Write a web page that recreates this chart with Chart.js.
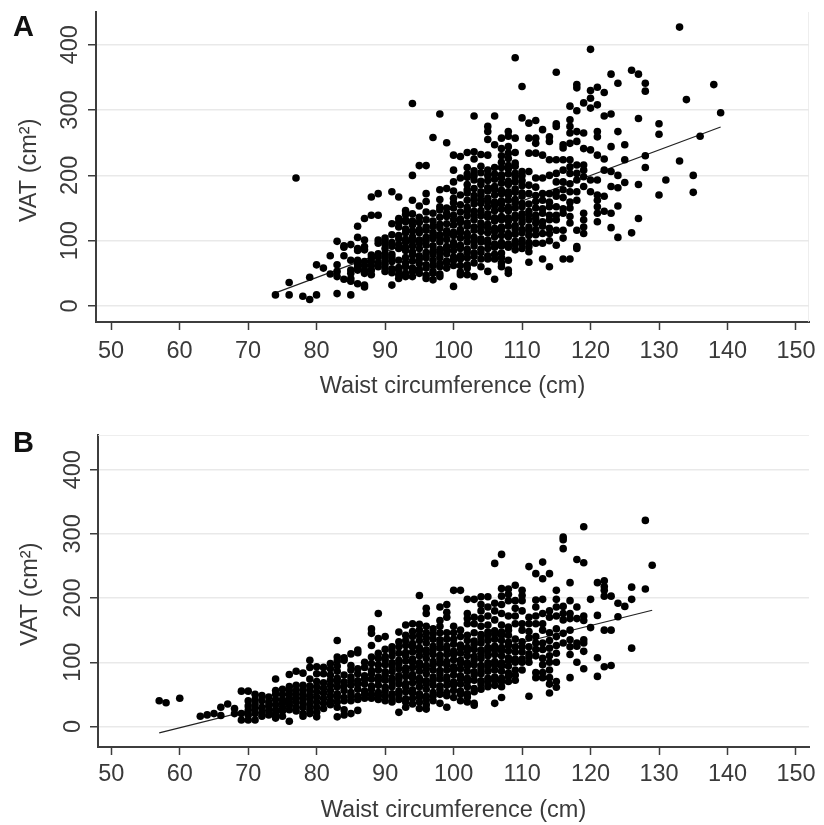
<!DOCTYPE html>
<html>
<head>
<meta charset="utf-8">
<script src="https://cdn.jsdelivr.net/npm/chart.js@4"></script>
<style>
    html, body { margin: 0; padding: 0; background: #fff; }
    #page { position: relative; width: 824px; height: 825px; overflow: hidden; }
    canvas { position: absolute; left: 0; }
    .panel { position: absolute; left: 13px; font: bold 29px "Liberation Sans", sans-serif; color: #111; line-height: 1; }
</style>
</head>
<body>
<div id="page">
    <canvas id="chartA" width="824" height="410" style="top:0"></canvas>
    <canvas id="chartB" width="824" height="415" style="top:410px"></canvas>
    <div class="panel" style="top:12px">A</div>
    <div class="panel" style="top:428px">B</div>
</div>
<script>
const xTicks = [50, 60, 70, 80, 90, 100, 110, 120, 130, 140, 150];
const yTicks = [0, 100, 200, 300, 400];

// Panel A: vong eo theo cot, moi cot la cac gia tri VAT doc tu hinh
const waistA = [74, 76, 77, 78, 79, 80, 81, 82, 83, 84, 85, 86, 87, 88, 89, 90, 91, 92, 93, 94, 95, 96, 97, 98, 99, 100,
    101, 102, 103, 104, 105, 106, 107, 108, 109, 110, 111, 112, 113, 114, 115, 116, 117, 118, 119, 120,
    121, 122, 123, 124, 125, 126, 127, 128, 130, 131, 133, 134, 135, 136, 138, 139];
const vatA = [
    [17], [17, 36], [196], [15], [10, 44], [17, 63], [58], [49, 77],
    [19, 45, 53, 63, 99], [41, 77, 90, 92], [17, 38, 42, 50, 55, 70, 94],
    [34, 55, 60, 65, 70, 85, 88, 105, 122],
    [29, 32, 50, 55, 62, 68, 86, 91, 101, 134],
    [48, 55, 62, 68, 73, 78, 139, 167],
    [60, 66, 75, 80, 96, 101, 139, 172],
    [53, 58, 64, 70, 75, 80, 88, 95, 100, 104],
    [32, 51, 57, 68, 74, 79, 92, 97, 109, 126, 175],
    [42, 48, 55, 59, 70, 88, 94, 103, 108, 121, 128, 134, 167],
    [45, 50, 60, 66, 74, 85, 90, 98, 102, 112, 118, 129, 132, 140, 146],
    [45, 53, 58, 69, 78, 83, 92, 100, 106, 115, 124, 130, 141, 162, 200, 310],
    [50, 56, 65, 72, 77, 88, 96, 101, 112, 117, 128, 136, 153, 215],
    [42, 47, 58, 63, 74, 82, 93, 100, 105, 116, 121, 132, 144, 160, 172, 215],
    [40, 50, 53, 62, 70, 79, 84, 92, 103, 108, 113, 122, 130, 142, 258],
    [45, 49, 60, 65, 74, 82, 87, 98, 105, 109, 120, 125, 136, 147, 152, 163, 178, 294],
    [58, 66, 69, 80, 86, 91, 102, 110, 115, 126, 137, 142, 150, 180, 250],
    [30, 62, 70, 75, 85, 92, 97, 108, 113, 124, 132, 139, 150, 158, 165, 176, 190, 208, 231],
    [48, 52, 62, 72, 77, 88, 93, 104, 112, 117, 128, 133, 144, 155, 170, 196, 229],
    [48, 58, 63, 74, 82, 87, 98, 106, 111, 122, 127, 138, 146, 151, 162, 173, 178, 186, 197, 202, 212, 235],
    [45, 66, 76, 81, 92, 100, 105, 116, 121, 132, 140, 145, 156, 164, 169, 180, 193, 200, 207, 225, 236, 291],
    [60, 72, 82, 87, 98, 103, 114, 122, 127, 138, 146, 157, 162, 170, 175, 186, 191, 204, 214, 232],
    [53, 72, 77, 88, 96, 101, 112, 120, 125, 136, 141, 152, 160, 165, 176, 181, 192, 200, 208, 231, 255, 267, 275],
    [41, 72, 79, 90, 95, 106, 114, 119, 130, 135, 146, 154, 159, 170, 178, 183, 194, 202, 212, 247, 291],
    [60, 66, 74, 81, 92, 97, 108, 116, 121, 132, 137, 148, 156, 161, 172, 177, 188, 196, 201, 212, 220, 230, 241, 257],
    [50, 55, 70, 90, 95, 106, 111, 122, 130, 135, 146, 151, 162, 170, 175, 186, 191, 202, 210, 215, 226, 234, 244, 260, 267],
    [86, 94, 99, 110, 118, 123, 134, 139, 150, 158, 163, 174, 179, 190, 198, 203, 214, 219, 235, 257, 380],
    [88, 96, 101, 112, 117, 128, 136, 141, 152, 157, 168, 173, 184, 192, 200, 206, 288, 336],
    [67, 83, 91, 97, 108, 116, 121, 132, 140, 145, 156, 172, 185, 206, 234, 257, 280],
    [96, 109, 117, 127, 134, 139, 150, 160, 169, 182, 196, 234, 249, 257, 284],
    [72, 96, 111, 122, 129, 142, 149, 162, 172, 196, 231, 270],
    [60, 100, 111, 119, 132, 139, 152, 159, 172, 200, 224, 252, 259],
    [93, 116, 132, 139, 152, 168, 175, 190, 203, 224, 275, 279, 358],
    [72, 104, 116, 142, 149, 166, 178, 190, 208, 224, 242, 247],
    [72, 127, 137, 150, 159, 175, 187, 203, 213, 224, 249, 265, 275, 285, 306],
    [88, 91, 116, 162, 175, 193, 203, 216, 252, 267, 299, 334, 339],
    [111, 121, 132, 142, 183, 198, 208, 216, 241, 265, 311],
    [175, 193, 239, 303, 318, 330, 393],
    [129, 142, 152, 162, 170, 193, 231, 259, 267, 308, 335],
    [145, 168, 208, 225, 291, 327],
    [120, 142, 183, 206, 244, 294, 355],
    [105, 153, 181, 200, 267, 341],
    [189, 224, 247],
    [112, 361],
    [134, 186, 287, 355],
    [212, 230, 329, 341],
    [170, 263, 279], [193], [222, 427], [316], [174, 200], [260], [339], [296]
];
const fitWaistA = [74, 139];
const fitVatA = [20, 274];

// Panel B
const waistB = [57, 58, 60, 63, 64, 65, 66, 67, 68, 69, 70, 71, 72, 73, 74, 75, 76, 77, 78, 79, 80, 81, 82, 83, 84, 85, 86, 87, 88, 89, 90,
    91, 92, 93, 94, 95, 96, 97, 98, 99, 100, 101, 102, 103, 104, 105, 106, 107, 108, 109, 110, 111, 112, 113, 114, 115, 116, 117, 118, 119, 120,
    121, 122, 123, 124, 125, 126, 128, 129];
const vatB = [
    [40], [37], [44], [16], [18], [20], [17, 30], [35], [20, 28],
    [10, 20, 55], [10, 18, 25, 32, 40, 55], [10, 20, 28, 35, 42, 50],
    [16, 22, 30, 40, 48], [18, 25, 32, 38, 46],
    [13, 16, 20, 26, 34, 42, 50, 56, 74], [16, 24, 30, 36, 42, 50, 58],
    [8, 26, 33, 38, 44, 50, 56, 62, 81], [24, 30, 38, 44, 50, 56, 64, 86],
    [16, 20, 30, 36, 44, 50, 58, 64, 83], [20, 26, 34, 42, 48, 56, 63, 74, 92, 103],
    [15, 22, 30, 38, 46, 54, 62, 70, 82, 93], [28, 36, 44, 52, 60, 68, 82, 92],
    [34, 40, 48, 56, 64, 72, 80, 90, 98],
    [15, 30, 38, 46, 51, 62, 70, 75, 86, 94, 102, 108, 134],
    [18, 26, 40, 45, 56, 64, 69, 80, 103, 107],
    [20, 40, 48, 53, 64, 72, 77, 88, 95, 113],
    [25, 42, 47, 58, 66, 71, 82, 90, 115, 119],
    [44, 50, 55, 66, 74, 79, 92, 100],
    [44, 50, 58, 63, 74, 82, 87, 98, 108, 126, 145, 152],
    [42, 48, 53, 64, 72, 77, 88, 96, 106, 114, 137, 176],
    [40, 48, 56, 61, 72, 80, 85, 96, 104, 109, 120, 140],
    [38, 46, 51, 62, 70, 75, 86, 94, 99, 110, 118, 124],
    [22, 42, 50, 55, 66, 74, 79, 90, 98, 103, 114, 124, 132, 147],
    [30, 38, 43, 54, 62, 67, 78, 86, 91, 102, 110, 115, 126, 134, 142, 158],
    [35, 44, 52, 57, 68, 76, 81, 92, 100, 105, 116, 124, 129, 140, 148, 160],
    [28, 38, 46, 51, 62, 70, 75, 86, 94, 99, 110, 118, 123, 134, 142, 150, 159, 204],
    [27, 34, 42, 47, 58, 66, 71, 82, 90, 95, 106, 114, 119, 130, 138, 146, 156, 176, 184],
    [40, 48, 53, 64, 72, 77, 88, 96, 101, 112, 120, 125, 136, 144, 152],
    [36, 50, 58, 63, 74, 82, 87, 98, 106, 111, 122, 130, 135, 146, 156, 165, 186],
    [30, 48, 53, 64, 72, 77, 88, 96, 101, 112, 120, 125, 136, 146, 170, 178, 190],
    [45, 56, 64, 69, 80, 88, 93, 104, 112, 117, 128, 136, 146, 156, 212],
    [40, 50, 55, 66, 74, 79, 90, 98, 103, 114, 122, 127, 140, 150, 212],
    [38, 46, 51, 62, 70, 75, 86, 94, 99, 110, 118, 123, 134, 142, 160, 168, 176, 198],
    [33, 36, 54, 59, 72, 80, 85, 96, 104, 109, 120, 128, 133, 146, 160, 170, 198],
    [58, 66, 71, 82, 90, 95, 106, 114, 119, 130, 138, 143, 156, 168, 180, 190, 202],
    [62, 70, 75, 86, 94, 99, 110, 118, 123, 134, 142, 147, 158, 172, 186, 202],
    [36, 64, 72, 77, 88, 96, 101, 112, 120, 125, 136, 144, 149, 166, 180, 192, 254],
    [45, 62, 70, 75, 86, 94, 99, 110, 118, 123, 134, 142, 147, 158, 176, 190, 203, 215, 268],
    [70, 78, 83, 94, 102, 107, 118, 126, 131, 142, 150, 155, 172, 196, 206, 214],
    [72, 80, 88, 100, 105, 116, 124, 136, 160, 172, 184, 196, 220],
    [88, 100, 105, 116, 124, 132, 150, 160, 180, 196, 204, 212],
    [47, 100, 108, 113, 124, 138, 148, 160, 170, 249],
    [76, 84, 110, 120, 130, 140, 160, 172, 186, 197, 238],
    [76, 84, 96, 106, 120, 130, 150, 160, 176, 198, 230, 256],
    [52, 66, 76, 88, 100, 110, 122, 134, 146, 170, 180, 238],
    [61, 70, 100, 114, 126, 140, 152, 172, 186, 198, 212],
    [130, 145, 166, 176, 187, 277, 291, 295],
    [76, 112, 124, 135, 150, 168, 176, 196, 224],
    [100, 125, 130, 168, 186, 260],
    [90, 117, 130, 135, 165, 172, 255, 311],
    [154, 198],
    [78, 107, 173, 224],
    [93, 150, 203, 212, 218, 227],
    [95, 150, 203],
    [171, 192],
    [187],
    [122, 198, 217],
    [214, 321],
    [251]
];
const fitWaistB = [57, 129];
const fitVatB = [-10, 181];

const inkColor = '#3a3a3a';
const axisColor = '#3d3d3d';
const gridColor = '#e9e9e9';
const fontFamily = '"Liberation Sans", Arial, sans-serif';
const fontSize = 23.5;

function toPoints(xs, ys) {
    return xs.map((x, i) => ({ x: x, y: ys[i] }));
}

function toCloud(waists, vats) {
    return waists.flatMap((w, i) => vats[i].map(v => ({ x: w, y: v })));
}

function drawPanel(canvasId, waists, vats, fitX, fitY, box) {
    // Duong vien nhat cua khung (A: ben phai, B: phia tren)
    const edge = box.edge === 'right'
        ? [{ x: box.xMax, y: box.yMin }, { x: box.xMax, y: box.yMax }]
        : [{ x: box.xMin, y: box.yMax }, { x: box.xMax, y: box.yMax }];

    new Chart(document.getElementById(canvasId), {
        type: 'scatter',
        data: {
            datasets: [
                {
                    label: 'VAT',
                    data: toCloud(waists, vats),
                    backgroundColor: '#000',
                    borderColor: '#000',
                    pointStyle: 'circle',
                    pointRadius: 3.8,
                    borderWidth: 0,
                    order: 1
                },
                {
                    label: 'Fit',
                    data: toPoints(fitX, fitY),
                    showLine: true,
                    borderColor: '#222',
                    borderWidth: 1.2,
                    pointRadius: 0,
                    order: 2
                },
                {
                    label: 'Edge',
                    data: edge,
                    showLine: true,
                    borderColor: gridColor,
                    borderWidth: 1.5,
                    pointRadius: 0,
                    order: 3
                }
            ]
        },
        options: {
            responsive: false,
            animation: false,
            events: [],
            layout: { padding: { left: 0, right: 824 - 809, top: box.top, bottom: 0 } },
            plugins: { legend: { display: false }, tooltip: { enabled: false } },
            scales: {
                x: {
                    type: 'linear',
                    min: box.xMin,
                    max: box.xMax,
                    afterBuildTicks: scale => { scale.ticks = xTicks.map(v => ({ value: v })); },
                    afterFit: scale => { scale.height = box.axisHeight; },
                    border: { color: axisColor, width: 2 },
                    grid: { drawOnChartArea: false, tickLength: 8, tickColor: axisColor, tickWidth: 1.5 },
                    ticks: {
                        color: inkColor,
                        font: { family: fontFamily, size: fontSize },
                        padding: box.xTickPadding,
                        maxRotation: 0,
                        autoSkip: false
                    },
                    title: {
                        display: true,
                        text: 'Waist circumference (cm)',
                        color: inkColor,
                        font: { family: fontFamily, size: fontSize },
                        padding: { top: 0, bottom: box.titleBottom }
                    }
                },
                y: {
                    type: 'linear',
                    min: box.yMin,
                    max: box.yMax,
                    afterBuildTicks: scale => { scale.ticks = yTicks.map(v => ({ value: v })); },
                    afterFit: scale => { scale.width = box.left; },
                    border: { color: axisColor, width: 2 },
                    grid: { color: gridColor, lineWidth: 1.5, tickLength: 8, tickColor: axisColor },
                    ticks: {
                        color: inkColor,
                        font: { family: fontFamily, size: fontSize },
                        padding: box.yTickPadding,
                        minRotation: 90,
                        maxRotation: 90,
                        crossAlign: 'center',
                        autoSkip: false
                    },
                    title: {
                        display: true,
                        text: 'VAT (cm²) ',
                        color: inkColor,
                        font: { family: fontFamily, size: fontSize },
                        padding: { top: box.yTitleLeft, bottom: 0 }
                    }
                }
            }
        }
    });
}

drawPanel('chartA', waistA, vatA, fitWaistA, fitVatA, {
    edge: 'right', xMin: 47.8, xMax: 151.9, yMin: -24.5, yMax: 450,
    top: 12, left: 96, axisHeight: 88, titleBottom: 9,
    xTickPadding: 7, yTickPadding: -2, yTitleLeft: 15
});

drawPanel('chartB', waistB, vatB, fitWaistB, fitVatB, {
    edge: 'top', xMin: 48.06, xMax: 151.9, yMin: -32, yMax: 454,
    top: 25, left: 98, axisHeight: 78, titleBottom: 0,
    xTickPadding: 5, yTickPadding: -3, yTitleLeft: 16
});
</script>
</body>
</html>
